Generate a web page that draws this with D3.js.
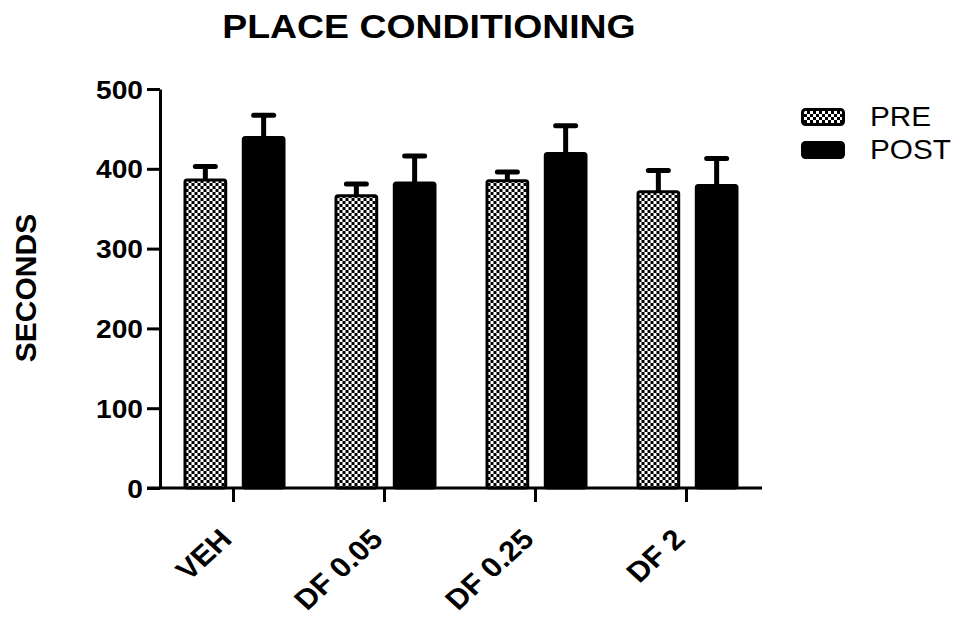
<!DOCTYPE html>
<html>
<head>
<meta charset="utf-8">
<script src="https://cdn.jsdelivr.net/npm/d3@7"></script>
<style>
  body { margin: 0; background: #fff; }
  svg { font-family: "Liberation Sans", Arial, sans-serif; }
</style>
</head>
<body>
<div id="chart"></div>
<script>
var groups = ["VEH", "DF 0.05", "DF 0.25", "DF 2"];
var series = ["PRE", "POST"];
var preMean = [388, 368, 387, 373];
var preSem = [15, 13, 9, 25];
var postMean = [441, 384, 421, 381];
var postSem = [26, 32, 33, 32];
var yTicks = [0, 100, 200, 300, 400, 500];

var rows = groups.map(function(g, i) {
  return [
    {group: g, key: "PRE", mean: preMean[i], sem: preSem[i]},
    {group: g, key: "POST", mean: postMean[i], sem: postSem[i]}
  ];
});

var W = 960, H = 619,
    stretch = 1.1;

var svg = d3.select("#chart").append("svg")
  .attr("width", W)
  .attr("height", H);

var defs = svg.append("defs");
var pat = defs.append("pattern")
  .attr("id", "checker")
  .attr("patternUnits", "userSpaceOnUse")
  .attr("width", 6).attr("height", 6);
pat.append("rect").attr("width", 6).attr("height", 6).attr("fill", "#000");
pat.append("rect").attr("x", 0).attr("y", 0).attr("width", 3).attr("height", 3).attr("fill", "#fff");
pat.append("rect").attr("x", 3).attr("y", 3).attr("width", 3).attr("height", 3).attr("fill", "#fff");

var fill = {PRE: "url(#checker)", POST: "#000"};

var x0 = d3.scaleBand().domain(groups).range([158, 762]);
var x1 = d3.scaleBand().domain(series).range([-50, 52]).paddingInner(0.25);
var y = d3.scaleLinear().domain([0, 500]).range([488, 89]);

// title
svg.append("text")
  .attr("transform", "translate(429,38) scale(" + stretch + ",1)")
  .attr("text-anchor", "middle")
  .style("font-size", "34px")
  .style("font-weight", "bold")
  .text("PLACE CONDITIONING");

// y label
svg.append("text")
  .attr("transform", "translate(36,288) rotate(-90)")
  .attr("text-anchor", "middle")
  .style("font-size", "30px")
  .style("font-weight", "bold")
  .text("SECONDS");

// bars
var g = svg.selectAll(".grp")
  .data(rows)
  .enter().append("g")
  .attr("class", "grp")
  .attr("transform", function(d) { return "translate(" + (x0(d[0].group) + x0.bandwidth() / 2) + ",0)"; });

var bar = g.selectAll(".bar")
  .data(function(d) { return d; })
  .enter().append("g")
  .attr("class", "bar");

// error bars (drawn first so bar covers the stem base)
bar.append("line")
  .attr("x1", function(d) { return x1(d.key) + x1.bandwidth() / 2; })
  .attr("x2", function(d) { return x1(d.key) + x1.bandwidth() / 2; })
  .attr("y1", function(d) { return y(d.mean) + 2; })
  .attr("y2", function(d) { return y(d.mean + d.sem); })
  .attr("stroke", "#000")
  .attr("stroke-width", 5);

bar.append("line")
  .attr("x1", function(d) { return x1(d.key) + x1.bandwidth() / 2 - 10; })
  .attr("x2", function(d) { return x1(d.key) + x1.bandwidth() / 2 + 10; })
  .attr("y1", function(d) { return y(d.mean + d.sem); })
  .attr("y2", function(d) { return y(d.mean + d.sem); })
  .attr("stroke", "#000")
  .attr("stroke-width", 5)
  .attr("stroke-linecap", "round");

bar.append("rect")
  .attr("x", function(d) { return x1(d.key) + 1.5; })
  .attr("y", function(d) { return y(d.mean) + 1.5; })
  .attr("width", x1.bandwidth() - 3)
  .attr("height", function(d) { return y(0) - y(d.mean) - 1.5; })
  .attr("rx", 2)
  .attr("fill", function(d) { return fill[d.key]; })
  .attr("stroke", "#000")
  .attr("stroke-width", 3);

// y axis
var yAxis = svg.append("g")
  .attr("transform", "translate(160,0)")
  .call(d3.axisLeft(y).tickValues(yTicks).tickSize(13).tickSizeOuter(0));
yAxis.select(".domain").attr("stroke-width", 3);
yAxis.selectAll(".tick line").attr("stroke-width", 3);
yAxis.selectAll(".tick text")
  .attr("x", null)
  .attr("dy", null)
  .attr("transform", "translate(-17,9) scale(" + stretch + ",1)")
  .attr("fill", "#000")
  .style("font-size", "25.6px")
  .style("font-weight", "bold")
  .style("font-family", "'Liberation Sans', Arial, sans-serif");

// x axis
var xAxis = svg.append("g")
  .attr("transform", "translate(0," + y(0) + ")")
  .call(d3.axisBottom(x0).tickSize(14).tickSizeOuter(0));
xAxis.select(".domain").remove();
xAxis.append("line")
  .attr("x1", x0.range()[0] - 11)
  .attr("x2", x0.range()[1])
  .attr("stroke", "#000")
  .attr("stroke-width", 3);
xAxis.selectAll(".tick line").attr("stroke-width", 3);
xAxis.selectAll(".tick text")
  .attr("y", null)
  .attr("dy", null)
  .attr("text-anchor", "end")
  .attr("transform", "translate(0,53) scale(" + stretch + ",1) rotate(-45)")
  .attr("fill", "#000")
  .style("font-size", "28px")
  .style("font-weight", "bold")
  .style("font-family", "'Liberation Sans', Arial, sans-serif");

// legend
var legend = svg.selectAll(".legend")
  .data(series)
  .enter().append("g")
  .attr("class", "legend")
  .attr("transform", function(d, i) { return "translate(801," + (108 + i * 33) + ")"; });

legend.append("rect")
  .attr("x", 1.5).attr("y", 1.5)
  .attr("width", 41).attr("height", 15)
  .attr("rx", 3)
  .attr("fill", function(d) { return fill[d]; })
  .attr("stroke", "#000")
  .attr("stroke-width", 3);

legend.append("text")
  .attr("transform", "translate(69,17.5) scale(" + stretch + ",1)")
  .style("font-size", "27px")
  .text(function(d) { return d; });
</script>
</body>
</html>
